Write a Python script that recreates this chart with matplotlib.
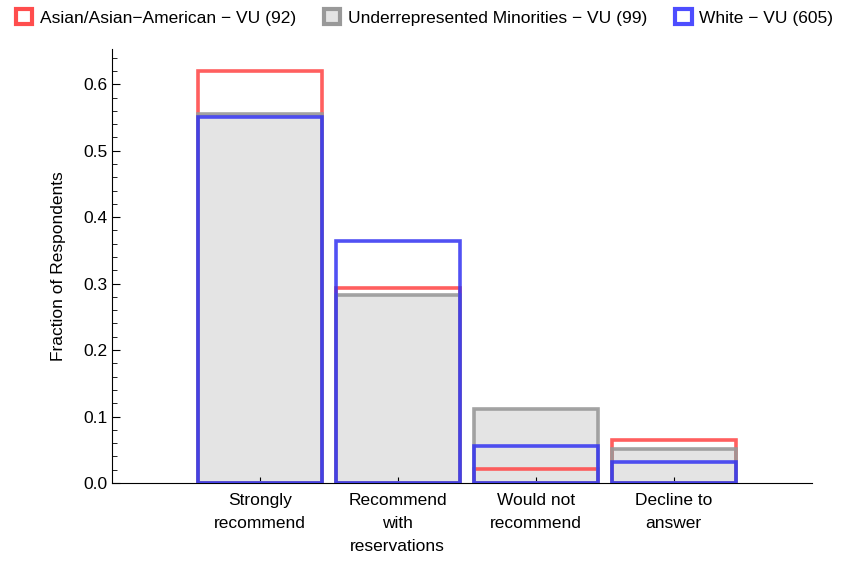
import numpy as np
import matplotlib.pyplot as plt
from matplotlib.patches import Patch
from matplotlib.ticker import MultipleLocator

plt.rcParams['font.family'] = ['Liberation Sans', 'DejaVu Sans']

categories = ["Strongly\nrecommend", "Recommend\nwith\nreservations",
              "Would not\nrecommend", "Decline to\nanswer"]
asian = [0.6196, 0.2935, 0.0217, 0.0652]
urm = [0.5556, 0.2828, 0.1111, 0.0505]
white = [0.5504, 0.3636, 0.0562, 0.0314]

labels = ["Asian/Asian\u2212American \u2212 VU (92)",
          "Underrepresented Minorities \u2212 VU (99)",
          "White \u2212 VU (605)"]

red = (1.0, 0.3, 0.3)
grey = (0.6, 0.6, 0.6)
blue = (0.3, 0.3, 1.0)
fill_grey = "#e4e4e4"
fs = 12.5

fig = plt.figure(figsize=(8.5, 5.65), dpi=100)
ax = fig.add_axes([0.1318, 0.1451, 0.955 - 0.1318, 0.9133 - 0.1451])

x = np.arange(len(categories))
w = 0.9
lw = 2.6

# grey fill first, then outlines
ax.bar(x, urm, width=w, color=fill_grey, edgecolor="none", zorder=1)
ax.bar(x, asian, width=w, fill=False, edgecolor=red + (0.9,), linewidth=lw, zorder=2)
ax.bar(x, urm, width=w, fill=False, edgecolor=grey + (0.9,), linewidth=lw, zorder=3)
ax.bar(x, white, width=w, fill=False, edgecolor=(0.2, 0.2, 0.95, 0.85), linewidth=lw, zorder=4)

ax.set_xlim(-1.07, 4.0)
ax.set_ylim(0, 0.653)
ax.set_xticks(x)
ax.set_xticklabels(categories, fontsize=fs, linespacing=1.68)
ax.yaxis.set_major_locator(MultipleLocator(0.1))
ax.yaxis.set_minor_locator(MultipleLocator(0.02))
ax.tick_params(axis='y', which='major', direction='in', length=6, labelsize=fs)
ax.tick_params(axis='y', which='minor', direction='in', length=3.5)
ax.tick_params(axis='x', direction='in', length=4, pad=7)
ax.set_ylabel("Fraction of Respondents", fontsize=fs, labelpad=12)

for side in ["top", "right"]:
    ax.spines[side].set_visible(False)
ax.spines["left"].set_linewidth(0.8)
ax.spines["bottom"].set_linewidth(0.8)

handles = [Patch(facecolor="white", edgecolor=red, linewidth=3),
           Patch(facecolor=fill_grey, edgecolor=grey, linewidth=3),
           Patch(facecolor="white", edgecolor=blue, linewidth=3)]
fig.legend(handles, labels, loc="upper left", bbox_to_anchor=(0.0, 1.012),
           ncol=3, frameon=False, fontsize=fs, handlelength=0.95, handleheight=1.0,
           handletextpad=0.45, columnspacing=1.6)

fig.savefig("out.png", dpi=100)
